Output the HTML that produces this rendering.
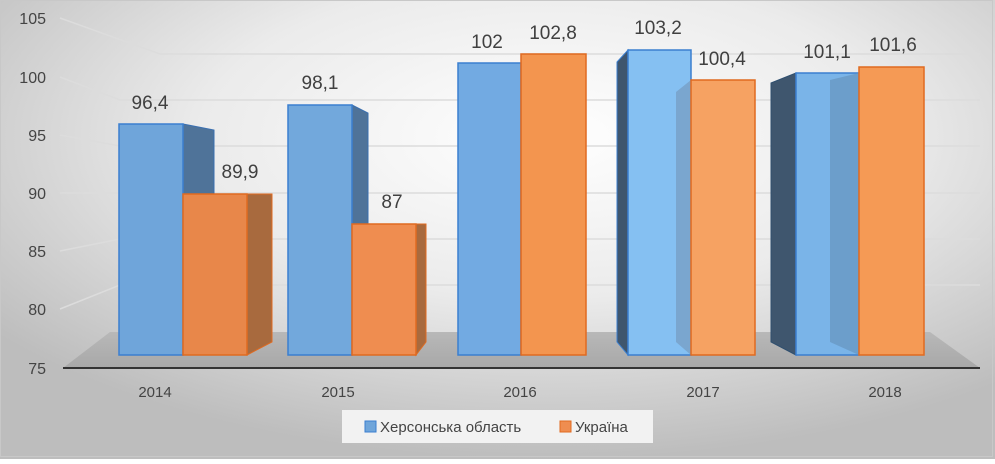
<!DOCTYPE html>
<html><head><meta charset="utf-8"><style>
body{margin:0;width:995px;height:459px;overflow:hidden;font-family:"Liberation Sans","DejaVu Sans",sans-serif}
</style></head><body>
<svg width="995" height="459" xmlns="http://www.w3.org/2000/svg" font-family="Liberation Sans, DejaVu Sans, sans-serif">
<defs>
<radialGradient id="bg" cx="0.55" cy="0.3" r="0.7">
<stop offset="0" stop-color="#ffffff"/><stop offset="0.5" stop-color="#ebebeb"/><stop offset="1" stop-color="#bdbdbd"/>
</radialGradient>
<linearGradient id="fl" x1="0" y1="0" x2="0" y2="1"><stop offset="0" stop-color="#b8b8b8"/><stop offset="1" stop-color="#a8a8a8"/></linearGradient>
</defs>
<rect x="0" y="0" width="995" height="459" fill="url(#bg)"/>
<rect x="0.5" y="0.5" width="992" height="456" fill="none" stroke="#c8c8c8"/>
<g stroke="#dcdcdc" stroke-width="1.5" fill="none">
<path d="M60 18 L160 54 L980 54"/>
<path d="M60 77 L120 100 L980 100"/>
<path d="M60 135 L120 146 L980 146"/>
<path d="M60 193 L120 193 L980 193"/>
<path d="M60 251 L120 239 L980 239"/>
<path d="M60 309 L120 285 L980 285"/>
</g>
<polygon points="110,332 930,332 980,368 63,368" fill="url(#fl)"/>
<line x1="63" y1="368" x2="980" y2="368" stroke="#333" stroke-width="2"/>
<g font-size="16" fill="#444" text-anchor="end">
<text x="46" y="24">105</text><text x="46" y="83">100</text><text x="46" y="141">95</text>
<text x="46" y="199">90</text><text x="46" y="257">85</text><text x="46" y="315">80</text><text x="46" y="374">75</text>
</g>
<polygon points="183,124 214,130 214,342 183,355" fill="#4f7399" stroke="#3a6fb0"/>
<rect x="119" y="124" width="64" height="231" fill="#6fa5da" stroke="#3b7fd0" stroke-width="1.5"/>
<polygon points="247,194 272,194 272,342 247,355" fill="#a86a3e" stroke="#e06a20"/>
<rect x="183" y="194" width="64" height="161" fill="#e8874a" stroke="#e06a20" stroke-width="1.5"/>
<polygon points="352,105 368,113 368,342 352,355" fill="#4f7399" stroke="#3a6fb0"/>
<rect x="288" y="105" width="64" height="250" fill="#72a8dc" stroke="#3b7fd0" stroke-width="1.5"/>
<polygon points="416,224 426,224 426,342 416,355" fill="#a86a3e" stroke="#e06a20"/>
<rect x="352" y="224" width="64" height="131" fill="#ef8d50" stroke="#e06a20" stroke-width="1.5"/>
<rect x="458" y="63" width="63" height="292" fill="#72aae2" stroke="#3b7fd0" stroke-width="1.5"/>
<rect x="521" y="54" width="65" height="301" fill="#f3954f" stroke="#e06a20" stroke-width="1.5"/>
<polygon points="617,62 628,50 628,355 617,342" fill="#3f566e" stroke="#3b7fd0"/>
<rect x="628" y="50" width="63" height="305" fill="#85c0f2" stroke="#3b7fd0" stroke-width="1.5"/>
<polygon points="676,92 691,80 691,355 676,342" fill="#7aa6cf"/>
<rect x="691" y="80" width="64" height="275" fill="#f6a262" stroke="#e06a20" stroke-width="1.5"/>
<polygon points="771,83 796,73 796,355 771,342" fill="#3f566e" stroke="#2f4f6f"/>
<rect x="796" y="73" width="63" height="282" fill="#7ab4e8" stroke="#3b7fd0" stroke-width="1.5"/>
<polygon points="830,80 859,73 859,355 830,342" fill="#6a9bc8" opacity="0.9"/>
<rect x="859" y="67" width="65" height="288" fill="#f59a55" stroke="#e06a20" stroke-width="1.5"/>
<g font-size="19" fill="#404040" text-anchor="middle">
<text x="150" y="109">96,4</text><text x="240" y="178">89,9</text>
<text x="320" y="89">98,1</text><text x="392" y="208">87</text>
<text x="487" y="48">102</text><text x="553" y="39">102,8</text>
<text x="658" y="34">103,2</text><text x="722" y="65">100,4</text>
<text x="827" y="58">101,1</text><text x="893" y="51">101,6</text>
</g>
<g font-size="15" fill="#444" text-anchor="middle">
<text x="155" y="397">2014</text><text x="338" y="397">2015</text><text x="520" y="397">2016</text>
<text x="703" y="397">2017</text><text x="885" y="397">2018</text>
</g>
<rect x="342" y="410" width="311" height="33" fill="#f2f2f2"/>
<rect x="365" y="421" width="11" height="11" fill="#6fa5da" stroke="#3b7fd0"/>
<text x="380" y="432" font-size="15" fill="#444">Херсонська область</text>
<rect x="560" y="421" width="11" height="11" fill="#ef8d50" stroke="#e06a20"/>
<text x="575" y="432" font-size="15" fill="#444">Україна</text>
</svg>
</body></html>
